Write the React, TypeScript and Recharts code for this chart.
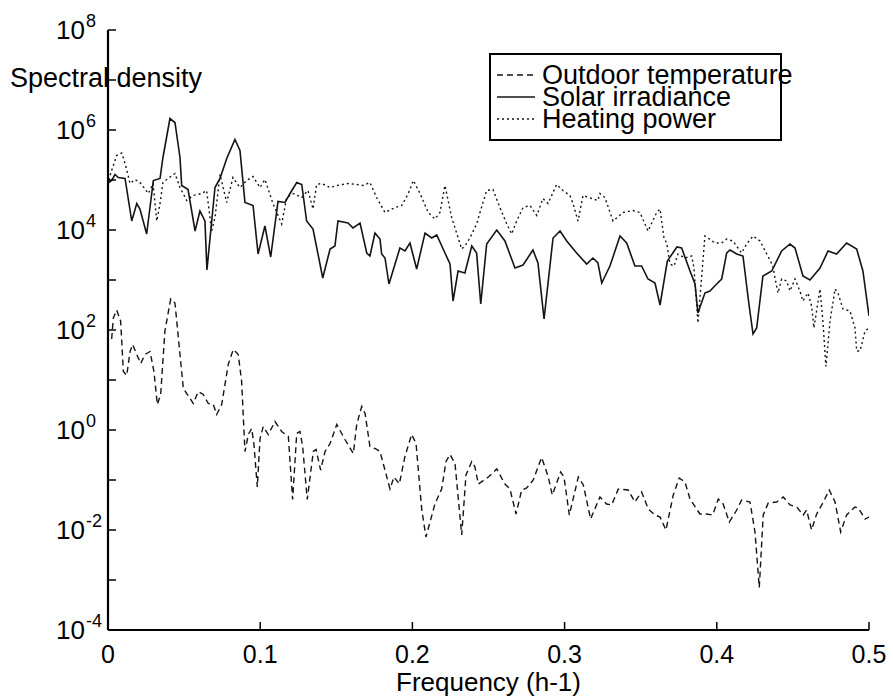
import React from 'react';
import { LineChart, Line, XAxis, YAxis, Legend } from 'recharts';

// frequency ticks (h-1) and decade ticks for the log axis
const freqTicks = [0, 0.1, 0.2, 0.3, 0.4, 0.5];
const decadeTicks = [1e-4, 1e-3, 1e-2, 1e-1, 1e0, 1e1, 1e2, 1e3, 1e4, 1e5, 1e6, 1e7, 1e8];

// values as log10(spectral density)
const tempFreq = [0.0024, 0.0035, 0.0057, 0.0083, 0.0101, 0.0123, 0.0145, 0.0162, 0.0189, 0.0215, 0.0243, 0.0276, 0.0302, 0.0324, 0.0346, 0.0374, 0.0412, 0.044, 0.0473, 0.0495, 0.0539, 0.056, 0.0593, 0.0626, 0.0659, 0.0692, 0.0714, 0.0747, 0.079, 0.0823, 0.0856, 0.0878, 0.09, 0.0922, 0.0944, 0.0959, 0.0981, 0.0999, 0.102, 0.1053, 0.1097, 0.1141, 0.1185, 0.1213, 0.124, 0.1261, 0.1279, 0.1309, 0.1349, 0.1367, 0.1397, 0.1426, 0.1459, 0.1503, 0.1557, 0.1612, 0.1634, 0.1667, 0.1689, 0.1721, 0.1754, 0.1787, 0.1853, 0.1879, 0.1914, 0.1951, 0.1995, 0.2024, 0.2061, 0.2089, 0.2148, 0.2192, 0.2221, 0.2247, 0.228, 0.2324, 0.2352, 0.239, 0.2411, 0.2433, 0.2499, 0.2554, 0.2608, 0.2641, 0.2681, 0.2718, 0.2751, 0.2794, 0.2849, 0.2893, 0.2919, 0.2974, 0.2996, 0.3031, 0.309, 0.3123, 0.3171, 0.3232, 0.3276, 0.3309, 0.3353, 0.3418, 0.3462, 0.3506, 0.355, 0.3594, 0.3627, 0.3666, 0.3714, 0.3753, 0.3791, 0.3824, 0.3889, 0.3933, 0.3973, 0.401, 0.4042, 0.4082, 0.4131, 0.4163, 0.4218, 0.4251, 0.4279, 0.4305, 0.4338, 0.4393, 0.4437, 0.4481, 0.4525, 0.4568, 0.459, 0.4623, 0.4656, 0.47, 0.4739, 0.4777, 0.4814, 0.4853, 0.4908, 0.493, 0.4974, 0.5];
const tempLog = [1.82, 2.24, 2.4, 2.18, 1.17, 1.09, 1.57, 1.71, 1.51, 1.33, 1.51, 1.57, 1.17, 0.51, 0.71, 1.98, 2.62, 2.54, 1.51, 0.83, 0.63, 0.53, 0.77, 0.71, 0.53, 0.51, 0.31, 0.51, 1.31, 1.61, 1.51, 0.97, -0.43, -0.09, 0.03, -0.29, -1.14, -0.17, 0.07, -0.09, 0.17, -0.03, -0.13, -1.39, -0.07, -0.03, -0.33, -1.39, -0.43, -0.39, -0.8, -0.43, -0.27, 0.11, -0.19, -0.47, 0.11, 0.47, 0.33, -0.33, -0.37, -0.43, -1.18, -0.94, -1.08, -0.53, -0.09, -0.27, -1.58, -2.14, -1.48, -1.18, -0.63, -0.49, -0.67, -2.1, -0.9, -0.63, -0.74, -1.08, -0.94, -0.78, -1.08, -1.18, -1.68, -1.2, -1.16, -1.0, -0.55, -0.94, -1.3, -0.84, -0.94, -1.7, -0.94, -1.1, -1.78, -1.34, -1.48, -1.5, -1.18, -1.2, -1.44, -1.24, -1.58, -1.7, -1.74, -2.0, -1.3, -0.96, -1.04, -1.38, -1.68, -1.68, -1.7, -1.38, -1.48, -1.84, -1.6, -1.4, -1.44, -2.04, -3.15, -1.7, -1.46, -1.44, -1.34, -1.5, -1.54, -1.7, -1.6, -2.0, -1.68, -1.44, -1.2, -1.44, -2.04, -1.7, -1.54, -1.56, -1.78, -1.74];

const solarFreq = [0.0005, 0.0024, 0.0046, 0.0068, 0.0112, 0.0156, 0.0189, 0.021, 0.0254, 0.0298, 0.0342, 0.0361, 0.0407, 0.044, 0.0473, 0.0484, 0.0526, 0.0572, 0.0604, 0.0637, 0.065, 0.0703, 0.0736, 0.078, 0.0834, 0.0867, 0.09, 0.0953, 0.0986, 0.1031, 0.1069, 0.1117, 0.1163, 0.1196, 0.124, 0.1273, 0.1305, 0.1347, 0.1411, 0.1459, 0.1491, 0.1511, 0.1577, 0.161, 0.1656, 0.17, 0.1721, 0.1754, 0.1787, 0.1798, 0.182, 0.1846, 0.1886, 0.1918, 0.1951, 0.1984, 0.2028, 0.2083, 0.2127, 0.216, 0.2214, 0.2247, 0.2267, 0.23, 0.2345, 0.239, 0.2422, 0.2449, 0.2488, 0.2554, 0.2608, 0.2674, 0.2727, 0.2792, 0.2825, 0.2865, 0.2924, 0.297, 0.3014, 0.3079, 0.3145, 0.3186, 0.3219, 0.3244, 0.3298, 0.3364, 0.3408, 0.3462, 0.3506, 0.3548, 0.3594, 0.3627, 0.3675, 0.3738, 0.3769, 0.3824, 0.3857, 0.3876, 0.3922, 0.3955, 0.3999, 0.4032, 0.4065, 0.4087, 0.4131, 0.4172, 0.4211, 0.4238, 0.4262, 0.4303, 0.4361, 0.4426, 0.4481, 0.4514, 0.4566, 0.4612, 0.4678, 0.4731, 0.4787, 0.4853, 0.4919, 0.496, 0.5];
const solarLog = [4.95, 4.99, 5.11, 5.05, 5.03, 4.18, 4.53, 4.42, 3.92, 4.99, 5.03, 5.45, 6.23, 6.15, 5.45, 4.89, 4.81, 3.98, 4.38, 4.18, 3.2, 4.85, 5.03, 5.43, 5.81, 5.59, 4.55, 4.49, 3.52, 4.08, 3.46, 4.57, 4.55, 4.73, 4.95, 4.91, 4.18, 4.02, 3.04, 3.62, 3.68, 4.18, 4.14, 4.04, 4.14, 3.54, 3.48, 3.94, 3.82, 3.52, 3.44, 2.92, 3.32, 3.64, 3.58, 3.74, 3.22, 3.94, 3.84, 3.9, 3.54, 3.32, 2.58, 3.18, 3.14, 3.68, 3.54, 2.52, 3.72, 4.0, 3.78, 3.24, 3.3, 3.6, 3.34, 2.22, 3.84, 3.98, 3.78, 3.54, 3.32, 3.44, 3.34, 2.94, 3.28, 3.88, 3.74, 3.28, 3.28, 3.02, 2.94, 2.5, 3.38, 3.66, 3.64, 3.18, 2.92, 2.34, 2.74, 2.78, 2.92, 3.02, 3.54, 3.6, 3.52, 3.48, 2.52, 1.92, 2.04, 3.08, 3.18, 3.58, 3.72, 3.64, 3.08, 3.0, 3.24, 3.58, 3.52, 3.74, 3.62, 3.18, 2.28];

const heatFreq = [0.0005, 0.0024, 0.0057, 0.009, 0.0112, 0.0145, 0.0177, 0.021, 0.0265, 0.0296, 0.032, 0.0342, 0.0361, 0.0394, 0.044, 0.0473, 0.0517, 0.0558, 0.0616, 0.0648, 0.0681, 0.0703, 0.0736, 0.078, 0.0821, 0.0867, 0.0911, 0.0953, 0.0999, 0.1031, 0.1084, 0.1141, 0.1174, 0.1215, 0.1273, 0.1314, 0.1347, 0.1371, 0.1404, 0.1459, 0.1503, 0.1577, 0.1634, 0.1675, 0.1721, 0.1765, 0.182, 0.1886, 0.193, 0.1973, 0.2006, 0.205, 0.2104, 0.2148, 0.2181, 0.2214, 0.2258, 0.2301, 0.2324, 0.2345, 0.2378, 0.2422, 0.2444, 0.2488, 0.2529, 0.2575, 0.262, 0.2652, 0.2685, 0.2727, 0.2773, 0.2817, 0.2858, 0.2891, 0.2948, 0.2989, 0.3035, 0.3055, 0.3088, 0.3121, 0.3178, 0.3219, 0.3232, 0.3265, 0.3318, 0.3384, 0.3449, 0.3495, 0.3548, 0.3605, 0.3627, 0.3653, 0.3671, 0.3692, 0.3719, 0.3745, 0.3791, 0.3835, 0.385, 0.3876, 0.3922, 0.3988, 0.4032, 0.4065, 0.4106, 0.4139, 0.4163, 0.4196, 0.4238, 0.4284, 0.4328, 0.4369, 0.4382, 0.4402, 0.4426, 0.4459, 0.4481, 0.4514, 0.4546, 0.4566, 0.4599, 0.4623, 0.4638, 0.4678, 0.4698, 0.4717, 0.4744, 0.4777, 0.4796, 0.4829, 0.4875, 0.4908, 0.4919, 0.4941, 0.4974, 0.5];
const heatLog = [5.0, 5.19, 5.49, 5.54, 5.33, 4.93, 5.01, 4.95, 4.73, 4.93, 4.18, 4.53, 4.95, 5.03, 5.13, 4.85, 4.59, 4.69, 4.73, 4.79, 3.98, 4.25, 5.11, 4.55, 5.05, 4.85, 4.99, 5.07, 4.85, 5.01, 4.53, 4.12, 4.65, 4.73, 4.65, 4.79, 4.42, 4.91, 4.93, 4.85, 4.89, 4.93, 4.91, 4.89, 4.95, 4.65, 4.35, 4.45, 4.49, 4.73, 4.99, 4.73, 4.35, 4.22, 4.35, 4.89, 4.25, 3.84, 3.62, 3.68, 3.84, 4.12, 4.35, 4.79, 4.81, 4.45, 4.12, 3.92, 4.18, 4.45, 4.49, 4.29, 4.63, 4.53, 4.91, 4.79, 4.69, 4.53, 4.18, 4.69, 4.63, 4.59, 4.73, 4.65, 4.18, 4.35, 4.39, 4.35, 3.98, 4.35, 4.42, 3.84, 3.74, 3.32, 3.28, 3.52, 3.44, 3.48, 3.24, 2.14, 3.88, 3.74, 3.74, 3.82, 3.78, 3.64, 3.54, 3.72, 3.88, 3.78, 3.52, 3.28, 3.04, 2.74, 3.02, 2.98, 2.78, 3.02, 2.78, 2.58, 2.74, 2.48, 2.04, 2.82, 2.14, 1.27, 2.18, 2.82, 2.74, 2.42, 2.38, 2.04, 1.58, 1.58, 1.98, 2.04];

const seriesNames = ['Outdoor temperature', 'Solar irradiance', 'Heating power'];
const seriesDash = ['6 4', undefined, '2 3'];

const toPoints = (freq: number[], logs: number[]) =>
  freq.map((f, i) => ({ f, v: Math.pow(10, logs[i]) }));

const tempData = toPoints(tempFreq, tempLog);
const solarData = toPoints(solarFreq, solarLog);
const heatData = toPoints(heatFreq, heatLog);

const FONT = '"Liberation Sans", Arial, Helvetica, sans-serif';
const INK = '#1a1212';
const TICK = 8;

const LeftTick = (props: any) => {
  const { x, y, payload } = props;
  const e = Math.round(Math.log10(payload.value));
  return (
    <g>
      <line x1={x} y1={y} x2={x + TICK} y2={y} stroke="#000" strokeWidth={1.5} />
      {e % 2 === 0 && (
        <g fontFamily={FONT} fill="#000">
          <text x={x - 23} y={y + 9} fontSize={26} textAnchor="end">10</text>
          <text x={x - 22} y={y - 3} fontSize={18} textAnchor="start">{e}</text>
        </g>
      )}
    </g>
  );
};

const RightTick = (props: any) => {
  const { x, y } = props;
  return <line x1={x} y1={y} x2={x - TICK} y2={y} stroke="#000" strokeWidth={1.5} />;
};

const BottomTick = (props: any) => {
  const { x, y, payload } = props;
  return (
    <g>
      <line x1={x} y1={y} x2={x} y2={y - TICK} stroke="#000" strokeWidth={1.5} />
      <text x={x} y={y + 33} fontSize={25} fontFamily={FONT} textAnchor="middle" fill="#000">
        {String(payload.value)}
      </text>
    </g>
  );
};

const TopTick = (props: any) => {
  const { x, y } = props;
  return <line x1={x} y1={y} x2={x} y2={y + TICK} stroke="#000" strokeWidth={1.5} />;
};

const LegendBox = () => (
  <div
    style={{
      width: 289,
      height: 84,
      border: '2px solid #000',
      background: '#fff',
      position: 'relative',
      fontFamily: FONT,
      fontSize: 27,
      color: '#000',
    }}
  >
    {seriesNames.map((name, i) => (
      <div
        key={name}
        style={{ position: 'absolute', left: 0, top: 9 + i * 22.2, height: 22, lineHeight: '22px', whiteSpace: 'nowrap' }}
      >
        <svg width={44} height={22} style={{ position: 'absolute', left: 6, top: 0 }}>
          <line x1={0} y1={11} x2={38} y2={11} stroke={INK} strokeWidth={1.5} strokeDasharray={seriesDash[i]} />
        </svg>
        <span style={{ position: 'absolute', left: 51, top: 0 }}>{name}</span>
      </div>
    ))}
  </div>
);

export default function App() {
  return (
    <div style={{ position: 'absolute', left: 0, top: 0, width: 893, height: 700, background: '#fff' }}>
      <LineChart width={893} height={700} margin={{ top: 30, right: 24, bottom: 30, left: 28 }}>
        <XAxis
          dataKey="f"
          type="number"
          domain={[0, 0.5]}
          ticks={freqTicks}
          interval={0}
          height={40}
          tickSize={0}
          tickMargin={0}
          tickLine={false}
          axisLine={{ stroke: '#000', strokeWidth: 2.2 }}
          tick={<BottomTick />}
          allowDataOverflow
          label={{
            content: (p: any) => {
              const vb = p.viewBox;
              return (
                <text x={vb.x + vb.width / 2} y={vb.y + 61} fontSize={26} fontFamily={FONT} textAnchor="middle" fill="#000">
                  Frequency (h-1)
                </text>
              );
            },
          }}
        />
        <XAxis
          xAxisId="top"
          orientation="top"
          dataKey="f"
          type="number"
          domain={[0, 0.5]}
          ticks={freqTicks}
          interval={0}
          height={0}
          tickSize={0}
          tickMargin={0}
          tickLine={false}
          axisLine={{ stroke: '#000', strokeWidth: 2.2 }}
          tick={<TopTick />}
          allowDataOverflow
        />
        <YAxis
          scale="log"
          type="number"
          domain={[1e-4, 1e8]}
          ticks={decadeTicks}
          interval={0}
          width={80}
          tickSize={0}
          tickMargin={0}
          tickLine={false}
          axisLine={{ stroke: '#000', strokeWidth: 2.2 }}
          tick={<LeftTick />}
          allowDataOverflow
          label={{
            content: () => (
              <text x={10} y={87} fontSize={27} fontFamily={FONT} fill="#000">
                Spectral density
              </text>
            ),
          }}
        />
        <YAxis
          yAxisId="right"
          orientation="right"
          scale="log"
          type="number"
          domain={[1e-4, 1e8]}
          ticks={decadeTicks}
          interval={0}
          width={0}
          tickSize={0}
          tickMargin={0}
          tickLine={false}
          axisLine={{ stroke: '#000', strokeWidth: 2.2 }}
          tick={<RightTick />}
          allowDataOverflow
        />
        <Legend
          layout="vertical"
          verticalAlign="middle"
          align="center"
          content={<LegendBox />}
          wrapperStyle={{ left: 489, top: 53, width: 293, height: 88 }}
        />
        <Line data={tempData} dataKey="v" name={seriesNames[0]} stroke={INK} strokeWidth={1.4} strokeDasharray={seriesDash[0]} dot={false} isAnimationActive={false} type="linear" />
        <Line data={solarData} dataKey="v" name={seriesNames[1]} stroke={INK} strokeWidth={1.6} dot={false} isAnimationActive={false} type="linear" />
        <Line data={heatData} dataKey="v" name={seriesNames[2]} stroke={INK} strokeWidth={1.4} strokeDasharray={seriesDash[2]} dot={false} isAnimationActive={false} type="linear" />
      </LineChart>
    </div>
  );
}
